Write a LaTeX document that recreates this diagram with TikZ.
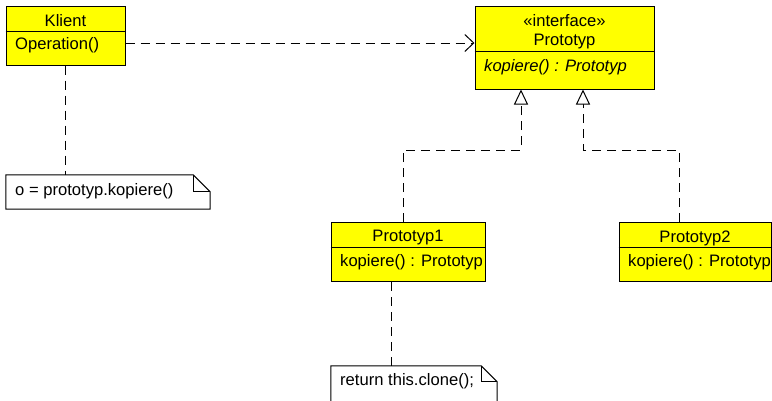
\documentclass[tikz,border=0pt]{standalone}
\usepackage{fontspec}
\setmainfont{Liberation Sans}
\usetikzlibrary{arrows.meta,calc}
\definecolor{umlyellow}{RGB}{255,255,0}
\tikzset{
  x=1pt, y=-1pt,
  classbox/.style={draw=black, fill=umlyellow, line width=1pt, inner sep=0pt},
  notebox/.style={inner sep=0pt},
  lbl/.style={inner sep=0pt, font=\fontsize{16.6}{19}\selectfont},
  lblw/.style={lbl, anchor=west},
  rule/.style={line width=1pt},
  dep/.style={line width=1pt, dash pattern=on 9pt off 6pt},
  realize/.style={dep, -{Triangle[open, length=15pt, width=14pt, line width=1pt, fill=white]}},
  uses/.style={dep, -{Straight Barb[length=9pt, width=17pt, line width=1pt]}},
}
\begin{document}
\begin{tikzpicture}
\useasboundingbox (0,0) rectangle (772,400);
\clip (0,0) rectangle (772,400);

% Client class
\node[classbox, minimum width=119pt, minimum height=59pt] (klient) at (65.5,35.5) {};
\draw[rule] (klient.west |- 0,31) -- (klient.east |- 0,31);
\node[lbl] (klientname) at (65.5,20.5) {Klient};
\node[lblw] (klientop) at (15,45.5) {Operation()};

% Interface
\node[classbox, minimum width=179pt, minimum height=83pt] (proto) at (564.5,47.5) {};
\draw[rule] (proto.west |- 0,51) -- (proto.east |- 0,51);
\node[lbl] (stereo) at (564.5,21) {«interface»};
\node[lbl] (protoname) at (564.5,42) {Prototyp};
\node[lblw] (protoop) at (484,67) {\itshape kopiere() : Prototyp};

% Concrete prototypes
\node[classbox, minimum width=154pt, minimum height=59pt] (p1) at (408,252) {};
\draw[rule] (p1.west |- 0,247) -- (p1.east |- 0,247);
\node[lbl] (p1name) at (408,238) {Prototyp1};
\node[lblw] (p1op) at (340,262.5) {kopiere() : Prototyp};

\node[classbox, minimum width=152pt, minimum height=59pt] (p2) at (695,252) {};
\draw[rule] (p2.west |- 0,247) -- (p2.east |- 0,247);
\node[lbl] (p2name) at (695,238) {Prototyp2};
\node[lblw] (p2op) at (628,262.5) {kopiere() : Prototyp};

% Notes with folded corner
\node[notebox, minimum width=204pt, minimum height=34pt] (note1) at (108,192) {};
\draw[rule, fill=white] (note1.north west) -- ([xshift=-17pt]note1.north east)
  -- ([yshift=-17pt]note1.north east) -- (note1.south east) -- (note1.south west) -- cycle;
\draw[rule] ([xshift=-17pt]note1.north east) -- ++(0,17) -- ++(17,0);
\node[lblw] (note1txt) at (15,191.5) {o = prototyp.kopiere()};

\node[notebox, minimum width=166pt, minimum height=40pt] (note2) at (414,386) {};
\draw[rule, fill=white] (note2.north west) -- ([xshift=-16pt]note2.north east)
  -- ([yshift=-16pt]note2.north east) -- (note2.south east) -- (note2.south west) -- cycle;
\draw[rule] ([xshift=-16pt]note2.north east) -- ++(0,16) -- ++(16,0);
\node[lblw] (note2txt) at (340,381) {return this.clone();};

% Connectors
\coordinate (depy) at (0,43);
\draw[uses] (klient.east |- depy) -- (proto.west |- depy);
\draw[realize] ([xshift=-5pt]p1.north) -- ++(0,-72) -| ([xshift=-43.5pt]proto.south);
\draw[realize] ([xshift=-16pt]p2.north) -- ++(0,-72) -| ([xshift=18.5pt]proto.south);
\draw[dep] (klient.south) -- (klient.south |- note1.north);
\draw[dep] ([xshift=-17pt]p1.south) -- ([xshift=-17pt]p1.south |- note2.north);
\end{tikzpicture}
\end{document}
